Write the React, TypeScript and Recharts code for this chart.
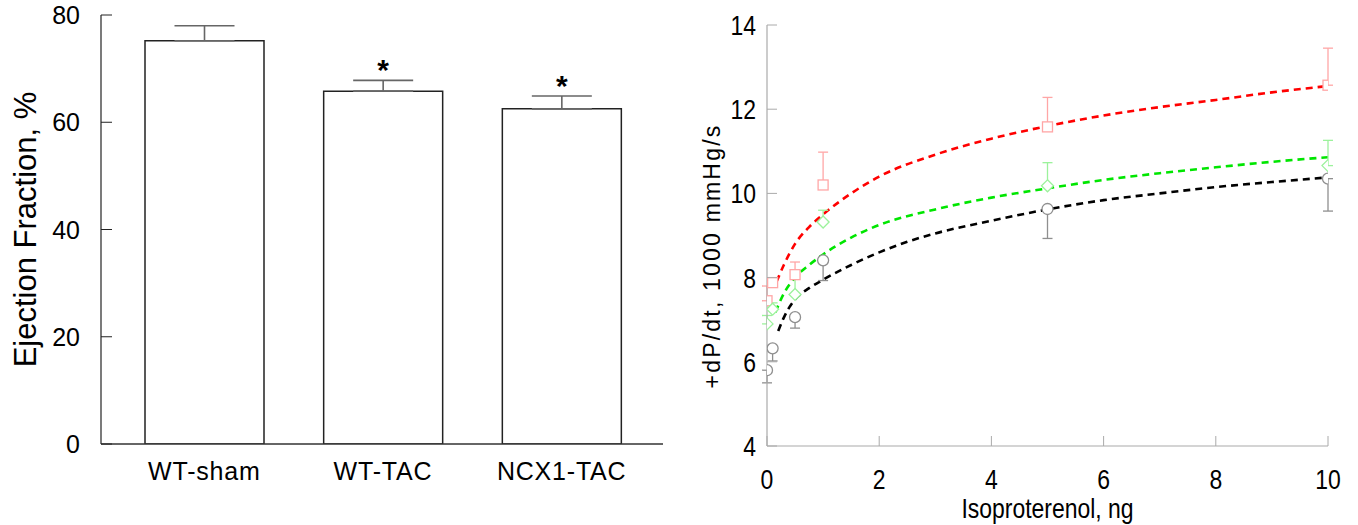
import React from 'react';
import { ComposedChart, Bar, XAxis, YAxis, ErrorBar, Scatter, Line, LabelList, Label } from 'recharts';

// ---------- Left panel: Ejection fraction ----------
const efCategories = ['WT-sham', 'WT-TAC', 'NCX1-TAC'];
const efValues = [75.2, 65.8, 62.5];
const efErrors = [2.8, 2.0, 2.4];
const efSignificant = [false, true, true];
const efTicks = [0, 20, 40, 60, 80];

// ---------- Right panel: +dP/dt vs isoproterenol ----------
const doses = [0, 0.1, 0.5, 1, 5, 10];
const circleMeans = [5.8, 6.32, 7.06, 8.41, 9.63, 10.35];
const circleErrDown = [0.3, 0.3, 0.26, 0.48, 0.7, 0.77];
const diamondMeans = [6.9, 7.25, 7.6, 9.32, 10.18, 10.66];
const diamondErrUp = [0.2, 0.15, 0.43, 0.28, 0.55, 0.6];
const squareMeans = [7.45, 7.88, 8.07, 10.2, 11.58, 12.57];
const squareErrUp = [0.35, 0.12, 0.3, 0.78, 0.7, 0.88];

const blackFitX = [0.2, 0.3, 0.4, 0.5, 0.75, 1, 1.5, 2, 2.5, 3, 4, 5, 6, 7, 8, 9, 10];
const blackFitY = [6.73, 7.05, 7.3, 7.48, 7.75, 7.95, 8.3, 8.6, 8.85, 9.05, 9.35, 9.62, 9.84, 10.0, 10.15, 10.27, 10.38];
const greenFitX = [0.15, 0.3, 0.5, 0.75, 1, 1.5, 2, 3, 4, 5, 6, 7, 8, 9, 10];
const greenFitY = [7.18, 7.62, 8.0, 8.3, 8.55, 8.95, 9.25, 9.62, 9.9, 10.12, 10.32, 10.48, 10.62, 10.75, 10.86];
const redFitX = [0.17, 0.3, 0.5, 0.75, 1, 1.5, 2, 3, 4, 5, 6, 7, 8, 9, 10];
const redFitY = [7.9, 8.3, 8.8, 9.2, 9.5, 10.0, 10.4, 10.92, 11.3, 11.6, 11.85, 12.05, 12.22, 12.4, 12.55];

const xTicks = [0, 2, 4, 6, 8, 10];
const yTicks = [4, 6, 8, 10, 12, 14];

const efData = efCategories.map((name, i) => ({ name, value: efValues[i], err: [0, efErrors[i]] }));
const circleData = doses.map((x, i) => ({ x, y: circleMeans[i], err: [circleErrDown[i], 0] }));
const diamondData = doses.map((x, i) => ({ x, y: diamondMeans[i], err: [0, diamondErrUp[i]] }));
const squareData = doses.map((x, i) => ({ x, y: squareMeans[i], err: [0, squareErrUp[i]] }));
const blackFit = blackFitX.map((x, i) => ({ x, y: blackFitY[i] }));
const greenFit = greenFitX.map((x, i) => ({ x, y: greenFitY[i] }));
const redFit = redFitX.map((x, i) => ({ x, y: redFitY[i] }));

const SANS = 'Liberation Sans, Arial, Helvetica, sans-serif';
const NARROW_SCALE = 0.82;

const NarrowText = ({ x, y, anchor, size, children }: any) => (
  <text
    transform={`translate(${x} ${y}) scale(${NARROW_SCALE} 1)`}
    x={0}
    y={0}
    textAnchor={anchor}
    fontSize={size}
    fill="#000"
    fontFamily={SANS}
  >
    {children}
  </text>
);

const LeftYTick = (props: any) => {
  const { x, y, payload } = props;
  return (
    <g>
      <line x1={x} x2={x + 11} y1={y} y2={y} stroke="#222" strokeWidth={1} />
      <text x={x - 21} y={y} dy="0.36em" textAnchor="end" fontSize={25} fill="#000" fontFamily={SANS}>
        {payload.value}
      </text>
    </g>
  );
};

const LeftXTick = (props: any) => {
  const { x, y, payload } = props;
  return (
    <text x={x} y={y + 36} textAnchor="middle" fontSize={25} letterSpacing={0.8} fill="#000" fontFamily={SANS}>
      {payload.value}
    </text>
  );
};

const RightYTick = (props: any) => {
  const { x, y, payload } = props;
  return (
    <g>
      <line x1={x} x2={x + 10} y1={y} y2={y} stroke="#aaa" strokeWidth={1} />
      <NarrowText x={x - 11} y={y + 10} anchor="end" size={28}>
        {payload.value}
      </NarrowText>
    </g>
  );
};

const RightXTick = (props: any) => {
  const { x, y, payload } = props;
  return (
    <g>
      <line x1={x} x2={x} y1={y} y2={y - 10} stroke="#aaa" strokeWidth={1} />
      <NarrowText x={x} y={y + 43} anchor="middle" size={28}>
        {payload.value}
      </NarrowText>
    </g>
  );
};

const StarLabel = (props: any) => {
  const vb = props.viewBox || props;
  const index = props.index;
  if (!efSignificant[index]) return null;
  const x = vb.x;
  const y = vb.y;
  const w = vb.width;
  const h = vb.height;
  const pxPerUnit = h / efValues[index];
  const errTop = y - efErrors[index] * pxPerUnit;
  return (
    <text x={x + w / 2} y={errTop} textAnchor="middle" fontSize={30} fontWeight="bold" fill="#000" fontFamily={SANS}>
      *
    </text>
  );
};

const CircleMark = (p: any) => (
  <circle cx={p.cx} cy={p.cy} r={5.5} fill="#fff" stroke="#8f8f8f" strokeWidth={1.3} />
);
const SquareMark = (p: any) => (
  <rect x={p.cx - 5} y={p.cy - 5} width={10} height={10} fill="#fff" stroke="#ffa6a6" strokeWidth={1.3} />
);
const DiamondMark = (p: any) => (
  <path
    d={`M${p.cx},${p.cy - 6}L${p.cx + 6},${p.cy}L${p.cx},${p.cy + 6}L${p.cx - 6},${p.cy}Z`}
    fill="#fff"
    stroke="#9cf29c"
    strokeWidth={1.3}
  />
);

const LeftChart = () => (
  <ComposedChart width={680} height={525} data={efData} margin={{ top: 15, right: 17, bottom: 41, left: 0 }}>
    <XAxis
      dataKey="name"
      height={40}
      padding={{ left: 14, right: 12 }}
      tickLine={false}
      tickSize={0}
      tickMargin={0}
      axisLine={{ stroke: '#333', strokeWidth: 1.3 }}
      tick={<LeftXTick />}
      interval={0}
    />
    <YAxis
      width={101}
      domain={[0, 80]}
      ticks={efTicks}
      type="number"
      allowDataOverflow
      tickLine={false}
      tickSize={0}
      tickMargin={0}
      axisLine={{ stroke: '#333', strokeWidth: 1.3 }}
      tick={<LeftYTick />}
      interval={0}
    >
      <Label
        content={(p: any) => {
          const vb = p.viewBox;
          const cx = 36;
          const cy = vb.y + vb.height / 2;
          return (
            <text x={cx} y={cy} transform={`rotate(-90 ${cx} ${cy})`} textAnchor="middle" fontSize={31} fill="#000" fontFamily={SANS}>
              Ejection Fraction, %
            </text>
          );
        }}
      />
    </YAxis>
    <Bar dataKey="value" barSize={119} fill="#fff" stroke="#222" strokeWidth={1.5} isAnimationActive={false}>
      <ErrorBar dataKey="err" width={30} stroke="#666" strokeWidth={1.6} direction="y" />
      <LabelList dataKey="value" content={<StarLabel />} />
    </Bar>
  </ComposedChart>
);

const RightChart = () => (
  <ComposedChart width={678} height={525} margin={{ top: 25, right: 30, bottom: 34, left: 0 }}>
    <XAxis
      dataKey="x"
      type="number"
      domain={[0, 10]}
      ticks={xTicks}
      allowDataOverflow
      height={45}
      tickLine={false}
      tickSize={0}
      tickMargin={0}
      axisLine={{ stroke: '#aaa', strokeWidth: 1.2 }}
      tick={<RightXTick />}
      interval={0}
    >
      <Label
        content={(p: any) => {
          const vb = p.viewBox;
          const cx = vb.x + vb.width / 2;
          return (
            <NarrowText x={cx} y={518} anchor="middle" size={28}>
              Isoproterenol, ng
            </NarrowText>
          );
        }}
      />
    </XAxis>
    <YAxis
      dataKey="y"
      type="number"
      width={87}
      domain={[4, 14]}
      ticks={yTicks}
      allowDataOverflow
      tickLine={false}
      tickSize={0}
      tickMargin={0}
      axisLine={{ stroke: '#aaa', strokeWidth: 1.2 }}
      tick={<RightYTick />}
      interval={0}
    >
      <Label
        content={() => {
          const cx = 40;
          const cy = 256;
          return (
            <text x={cx} y={cy} transform={`rotate(-90 ${cx} ${cy})`} textAnchor="middle" fontSize={23} letterSpacing={2.2} fill="#000" fontFamily={SANS}>
              +dP/dt, 1000 mmHg/s
            </text>
          );
        }}
      />
    </YAxis>
    <Line data={redFit} dataKey="y" type="monotone" stroke="#ff0000" strokeWidth={2.6} strokeDasharray="7 5" dot={false} isAnimationActive={false} />
    <Line data={greenFit} dataKey="y" type="monotone" stroke="#00e600" strokeWidth={2.6} strokeDasharray="7 5" dot={false} isAnimationActive={false} />
    <Line data={blackFit} dataKey="y" type="monotone" stroke="#000" strokeWidth={2.6} strokeDasharray="7 5" dot={false} isAnimationActive={false} />
    <Scatter data={squareData} dataKey="y" shape={<SquareMark />} isAnimationActive={false}>
      <ErrorBar dataKey="err" direction="y" width={5} stroke="#ffa6a6" strokeWidth={1.3} />
    </Scatter>
    <Scatter data={diamondData} dataKey="y" shape={<DiamondMark />} isAnimationActive={false}>
      <ErrorBar dataKey="err" direction="y" width={5} stroke="#9cf29c" strokeWidth={1.3} />
    </Scatter>
    <Scatter data={circleData} dataKey="y" shape={<CircleMark />} isAnimationActive={false}>
      <ErrorBar dataKey="err" direction="y" width={5} stroke="#8f8f8f" strokeWidth={1.3} />
    </Scatter>
  </ComposedChart>
);

export default function App() {
  return (
    <div style={{ position: 'absolute', left: 0, top: 0, width: 1358, height: 525, background: '#fff' }}>
      <div style={{ position: 'absolute', left: 0, top: 0 }}>
        <LeftChart />
      </div>
      <div style={{ position: 'absolute', left: 680, top: 0 }}>
        <RightChart />
      </div>
    </div>
  );
}
